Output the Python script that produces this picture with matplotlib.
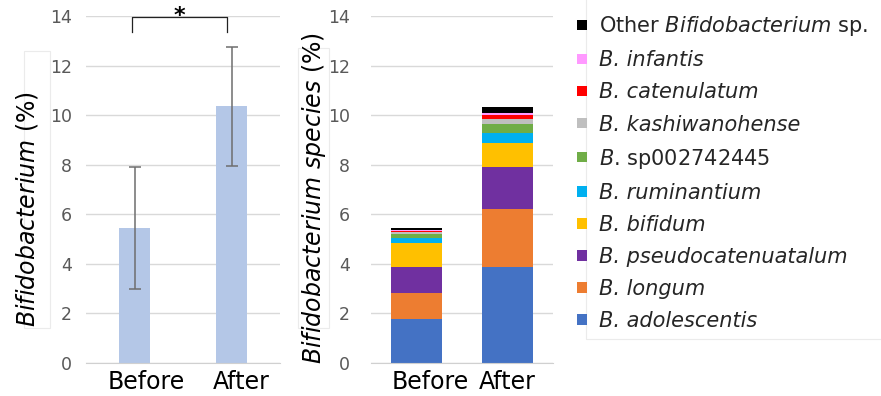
import matplotlib
matplotlib.use("Agg")
import matplotlib.pyplot as plt
import numpy as np
from matplotlib.patches import Patch, Rectangle
from matplotlib.transforms import ScaledTranslation

plt.rcParams["font.family"] = "DejaVu Sans"
plt.rcParams["mathtext.fontset"] = "custom"
plt.rcParams["mathtext.rm"] = "DejaVu Sans"
plt.rcParams["mathtext.it"] = "DejaVu Sans:italic"

# -----------------------------
# Data
# -----------------------------
groups = ["Before", "After"]

# total Bifidobacterium abundance (mean +/- error)
total_mean = [5.45, 10.35]
total_err = [2.45, 2.4]

# species-level stacked abundance, bottom -> top
species = [
    "B. adolescentis",
    "B. longum",
    "B. pseudocatenuatalum",
    "B. bifidum",
    "B. ruminantium",
    r"$\mathit{B}$. sp002742445",
    "B. kashiwanohense",
    "B. catenulatum",
    "B. infantis",
    r"Other $\mathit{Bifidobacterium}$ sp.",
]
before_vals = [1.76, 1.05, 1.07, 0.97, 0.18, 0.16, 0.08, 0.07, 0.04, 0.07]
after_vals = [3.88, 2.33, 1.71, 0.94, 0.41, 0.37, 0.19, 0.17, 0.09, 0.22]
species_colors = ["#4472C4", "#ED7D31", "#7030A0", "#FFC000", "#00B0F0",
                  "#70AD47", "#BFBFBF", "#FF0000", "#FF99FF", "#000000"]

W, H = 881, 396
fig = plt.figure(figsize=(W / 100, H / 100), dpi=100)


def px_axes(x0, x1, y_top, y_bot):
    return fig.add_axes([x0 / W, 1 - y_bot / H, (x1 - x0) / W, (y_bot - y_top) / H])


def style_axis(ax, pad, label_shift):
    ax.set_ylim(0, 14)
    ax.set_xlim(-0.5, 1.5)
    ax.set_yticks(np.arange(0, 15, 2))
    ax.set_xticks([0, 1])
    ax.set_xticklabels(groups)
    ax.grid(axis="y", color="#d9d9d9", linewidth=1)
    ax.set_axisbelow(True)
    for s in ["left", "right", "top"]:
        ax.spines[s].set_visible(False)
    ax.spines["bottom"].set_color("#d0d0d0")
    ax.tick_params(axis="y", length=0, pad=pad, labelsize=12.5, labelcolor="#595959")
    ax.tick_params(axis="x", length=0, pad=5, labelsize=17, labelcolor="black")
    # category labels sit a little right of the bars
    for lab, dx in zip(ax.get_xticklabels(), label_shift):
        lab.set_transform(lab.get_transform() + ScaledTranslation(dx / 100, 0, fig.dpi_scale_trans))


# faint title/legend boxes
for (x0, y0, x1, y1) in [(24, 51, 50, 328), (298, 48, 329, 328), (586, -2, 883, 339)]:
    fig.patches.append(Rectangle((x0 / W, 1 - y1 / H), (x1 - x0) / W, (y1 - y0) / H,
                                 transform=fig.transFigure, fill=False,
                                 edgecolor="#ebebeb", linewidth=0.8, zorder=0))

# ============================================================================
# Left panel: total Bifidobacterium
# ============================================================================
ax1 = px_axes(86, 280, 16, 363)
x = np.arange(len(groups))
ax1.bar(x, total_mean, width=0.31, color="#B4C7E7", zorder=2)
ax1.errorbar(x, total_mean, yerr=total_err, fmt="none", ecolor="#6e6e6e",
             elinewidth=1.1, capsize=4.5, capthick=1.1, zorder=3)
style_axis(ax1, pad=10, label_shift=[12, 10])

# significance bracket
bx0, bx1, by_top, by_leg = -0.03, 0.95, 13.94, 13.35
ax1.plot([bx0, bx0, bx1, bx1], [by_leg, by_top, by_top, by_leg],
         color="#222222", linewidth=0.9, clip_on=False, zorder=4,
         solid_joinstyle="round")
ax1.text((bx0 + bx1) / 2, 13.75, "*", ha="center", va="baseline",
         fontsize=16, fontweight="bold", clip_on=False)

fig.text(27 / W, 1 - 209 / H, r"$\mathit{Bifidobacterium}$ (%)",
         rotation=90, ha="center", va="center", fontsize=17, color="black")

# ============================================================================
# Right panel: species composition
# ============================================================================
ax2 = px_axes(371, 553, 16, 363)
bottom = np.zeros(len(groups))
for name, b, a, c in zip(species, before_vals, after_vals, species_colors):
    vals = np.array([b, a])
    ax2.bar(x, vals, width=0.57, bottom=bottom, color=c, label=name, zorder=2)
    bottom += vals
style_axis(ax2, pad=15, label_shift=[14, 0])

fig.text(314 / W, 1 - 198 / H, r"$\mathit{Bifidobacterium\ species}$ (%)",
         rotation=90, ha="center", va="center", fontsize=17, color="black")

# legend, top entry = top of the stack
handles = [Patch(facecolor=c) for c in species_colors][::-1]
labels = species[::-1]
leg = fig.legend(handles, labels, loc="upper left",
                 bbox_to_anchor=(569 / W, 1 - 6 / H),
                 frameon=False, fontsize=15, handlelength=0.45, handleheight=0.4,
                 handletextpad=0.6, labelspacing=0.58, borderaxespad=0)
for t in leg.get_texts():
    t.set_color("#262626")
    if "$" not in t.get_text():
        t.set_fontstyle("italic")

fig.savefig("out.png", dpi=100)
